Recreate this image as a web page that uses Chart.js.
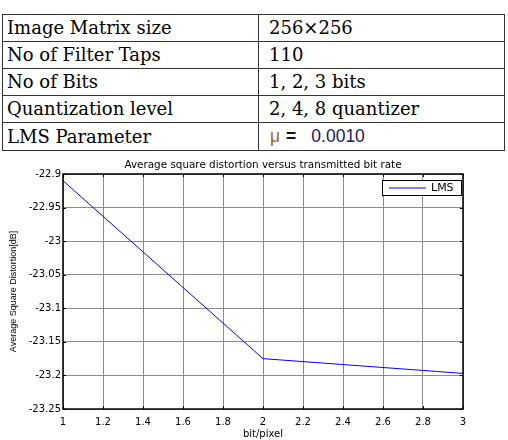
<!DOCTYPE html>
<html>
<head>
<meta charset="utf-8">
<script src="https://cdn.jsdelivr.net/npm/chart.js@4"></script>
<style>
  body { margin: 0; background: #fff; width: 508px; height: 440px; overflow: hidden; position: relative; }
  table.params {
    position: absolute; left: 2px; top: 14px; width: 503px;
    border-collapse: collapse; font-family: "DejaVu Serif", serif; font-size: 18px; color: #000;
  }
  table.params td { border: 1px solid #333; height: 26px; padding: 0 0 0 4px; line-height: 26px; white-space: nowrap; }
  table.params td:first-child { width: 251px; }
  table.params td + td { padding-left: 10px; }
  table.params tr:last-child td { height: 27px; line-height: 27px; }
  table.params td.mu { font-family: "Liberation Sans", Arial, sans-serif; font-size: 17.5px; color: #22185a; padding-left: 11px; }
  .mu .m { color: #a0641e; }
  .mu .eq { color: #101030; margin-left: 6px; font-weight: bold; }
  .mu .num { margin-left: 15px; }
  #wrap { position: absolute; left: 0; top: 155px; width: 508px; height: 285px; }
</style>
</head>
<body>
<table class="params" id="params"></table>
<div id="wrap"><canvas id="myChart" width="508" height="285"></canvas></div>
<script>
// таблица параметров
const paramNames = ["Image Matrix size", "No of Filter Taps", "No of Bits", "Quantization level", "LMS Parameter"];
const paramValues = ["256×256", "110", "1, 2, 3 bits", "2, 4, 8 quantizer", "0.0010"];

// данные графика
const bitRates = [1, 2, 3];
const lmsDistortion = [-22.91, -23.175, -23.197];
const seriesLabel = "LMS";
const chartTitle = "Average square distortion versus transmitted bit rate";

let rows = "";
paramNames.forEach((name, i) => {
  let cell = `<td>${paramValues[i]}</td>`;
  if (i === paramNames.length - 1) {
    cell = `<td class="mu"><span class="m">μ</span><span class="eq">=</span><span class="num">${paramValues[i]}</span></td>`;
  }
  rows += `<tr><td>${name}</td>${cell}</tr>`;
});
document.getElementById("params").innerHTML = rows;

const fmt = (v) => String(Number(v.toFixed(2)));
const sans = '"DejaVu Sans", Verdana, sans-serif';

// рамка осей + засечки внутрь + легенда внутри графика + заголовок по центру области графика
const framePlugin = {
  id: 'frame',
  afterDatasetsDraw(chart) {
    const { ctx, chartArea: a, scales } = chart;
    ctx.save();
    ctx.strokeStyle = '#000';
    ctx.lineWidth = 1;
    ctx.beginPath();
    scales.x.ticks.forEach((t) => {
      let px = Math.round(scales.x.getPixelForValue(t.value)) + 0.5;
      ctx.moveTo(px, a.bottom); ctx.lineTo(px, a.bottom - 3);
      ctx.moveTo(px, a.top); ctx.lineTo(px, a.top + 3);
    });
    scales.y.ticks.forEach((t) => {
      let py = Math.round(scales.y.getPixelForValue(t.value)) + 0.5;
      ctx.moveTo(a.left, py); ctx.lineTo(a.left + 3, py);
      ctx.moveTo(a.right, py); ctx.lineTo(a.right - 3, py);
    });
    ctx.stroke();
    ctx.lineWidth = 1.5;
    ctx.strokeRect(a.left, a.top, a.right - a.left, a.bottom - a.top);

    // легенда
    const bx = a.right - 81, by = a.top + 6, bw = 79, bh = 15;
    ctx.fillStyle = '#fff';
    ctx.fillRect(bx, by, bw, bh);
    ctx.lineWidth = 1;
    ctx.strokeRect(bx + 0.5, by + 0.5, bw, bh);
    const ds = chart.data.datasets[0];
    ctx.strokeStyle = ds.borderColor;
    ctx.beginPath();
    ctx.moveTo(bx + 7, by + 8); ctx.lineTo(bx + 44, by + 8);
    ctx.stroke();
    ctx.fillStyle = '#000';
    ctx.font = '11px ' + sans;
    ctx.textBaseline = 'middle';
    ctx.fillText(ds.label, bx + 49, by + 8.5);

    // заголовок
    ctx.font = '10.4px ' + sans;
    ctx.textAlign = 'center';
    ctx.fillText(chartTitle, (a.left + a.right) / 2, a.top - 9);
    ctx.restore();
  }
};

const ctx = document.getElementById("myChart").getContext('2d');
new Chart(ctx, {
  type: 'scatter',
  data: {
    datasets: [{
      label: seriesLabel,
      data: bitRates.map((x, i) => ({ x: x, y: lmsDistortion[i] })),
      showLine: true,
      borderColor: '#0000ff',
      backgroundColor: '#0000ff',
      borderWidth: 1,
      pointRadius: 0,
      tension: 0
    }]
  },
  options: {
    responsive: false,
    animation: false,
    layout: { padding: { left: 0, right: 45, top: 19, bottom: 0 } },
    plugins: {
      legend: { display: false },
      tooltip: { enabled: false },
      title: { display: false }
    },
    scales: {
      x: {
        type: 'linear',
        min: 1, max: 3,
        ticks: { stepSize: 0.2, color: '#000', padding: 7, maxRotation: 0,
          font: { family: sans, size: 10 },
          callback: (v) => fmt(v) },
        grid: { color: '#8c8c8c', drawTicks: false },
        border: { display: false },
        title: { display: true, text: 'bit/pixel', color: '#000',
          font: { family: sans, size: 10 }, padding: { top: 0, bottom: 0 } },
        afterFit: (s) => { s.height = 31; }
      },
      y: {
        min: -23.25, max: -22.9,
        ticks: { stepSize: 0.05, color: '#000', padding: 2,
          font: { family: sans, size: 10 },
          callback: (v) => fmt(v) },
        grid: { color: '#8c8c8c', drawTicks: false },
        border: { display: false },
        title: { display: true, text: 'Average Square Distortion[dB]', color: '#000',
          font: { family: '"Liberation Sans", Arial, sans-serif', size: 9 }, padding: { top: 8, bottom: 0 } },
        afterFit: (s) => { s.width = 63; }
      }
    }
  },
  plugins: [framePlugin]
});
</script>
</body>
</html>
